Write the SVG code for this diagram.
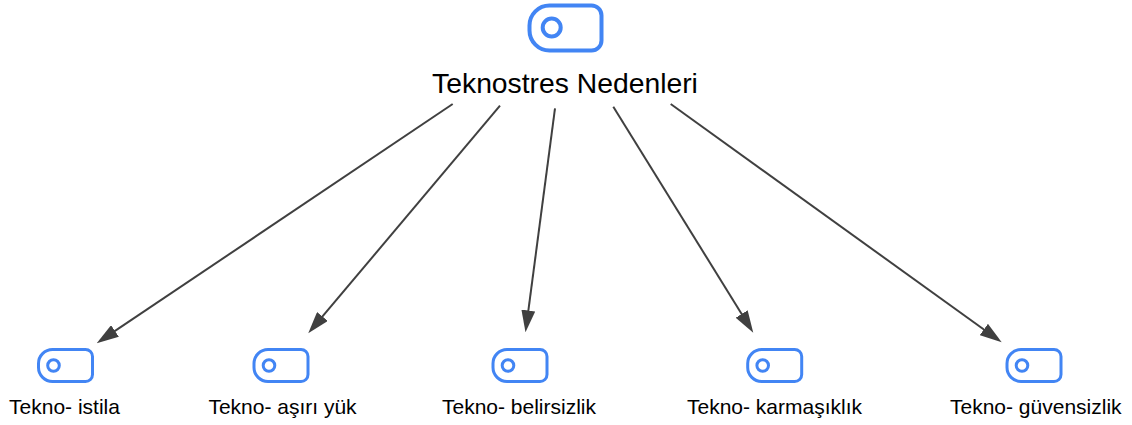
<svg xmlns="http://www.w3.org/2000/svg" xmlns:xlink="http://www.w3.org/1999/xlink" width="1132" height="425" viewBox="0 0 1132 425">
<style>
.icon{fill:none;stroke:#4285F4;stroke-linejoin:round}
.big{stroke-width:4}
.small{stroke-width:3}
.lbl{font-family:"Liberation Sans",Arial,sans-serif;fill:#000;text-anchor:middle}
.title{font-size:28.3px}
.sub{font-size:21px}
.edge{stroke:#404040;stroke-width:2;fill:none;marker-end:url(#ah)}
</style>
<defs>
<marker id="ah" markerUnits="userSpaceOnUse" markerWidth="22" markerHeight="14" refX="12" refY="7" orient="auto">
<path d="M0,0 L22,7 L0,14 Z" fill="#404040"/>
</marker>
<g id="smallIcon">
<path class="icon small" d="M-13,-16 H20 A7,7 0 0 1 27,-9 V9 A7,7 0 0 1 20,16 H-13 A14,14 0 0 1 -27,2 V-2 A14,14 0 0 1 -13,-16 Z"/>
<circle class="icon small" cx="-12" cy="0" r="5.8"/>
</g>
</defs>
<rect width="1132" height="425" fill="#fff"/>
<g id="connectors">
<line class="edge" x1="452.7" y1="104" x2="105.0" y2="337.7"/>
<line class="edge" x1="500" y1="105.7" x2="314.7" y2="325.7"/>
<line class="edge" x1="555" y1="108.3" x2="526.8" y2="322.4"/>
<line class="edge" x1="613.3" y1="106.7" x2="748.0" y2="324.2"/>
<line class="edge" x1="670.7" y1="104" x2="993.6" y2="336.5"/>
</g>
<g id="root">
<path class="icon big" d="M549.5,5.5 H591.5 A10,10 0 0 1 601.5,15.5 V40.5 A10,10 0 0 1 591.5,50.5 H549.5 A20,20 0 0 1 529.5,30.5 V25.5 A20,20 0 0 1 549.5,5.5 Z"/>
<circle class="icon big" cx="551.7" cy="27.5" r="9"/>
<text class="lbl title" x="565" y="93">Teknostres Nedenleri</text>
</g>
<g id="n1">
<use xlink:href="#smallIcon" transform="translate(65.5,365.5)"/>
<text class="lbl sub" x="64.5" y="414">Tekno- istila</text>
</g>
<g id="n2">
<use xlink:href="#smallIcon" transform="translate(281,365.5)"/>
<text class="lbl sub" x="282.5" y="414">Tekno- aşırı yük</text>
</g>
<g id="n3">
<use xlink:href="#smallIcon" transform="translate(520,365.5)"/>
<text class="lbl sub" x="519" y="414">Tekno- belirsizlik</text>
</g>
<g id="n4">
<use xlink:href="#smallIcon" transform="translate(774.7,365.5)"/>
<text class="lbl sub" x="774.5" y="414">Tekno- karmaşıklık</text>
</g>
<g id="n5">
<use xlink:href="#smallIcon" transform="translate(1034,365.5)"/>
<text class="lbl sub" x="1035.8" y="414">Tekno- güvensizlik</text>
</g>
</svg>
